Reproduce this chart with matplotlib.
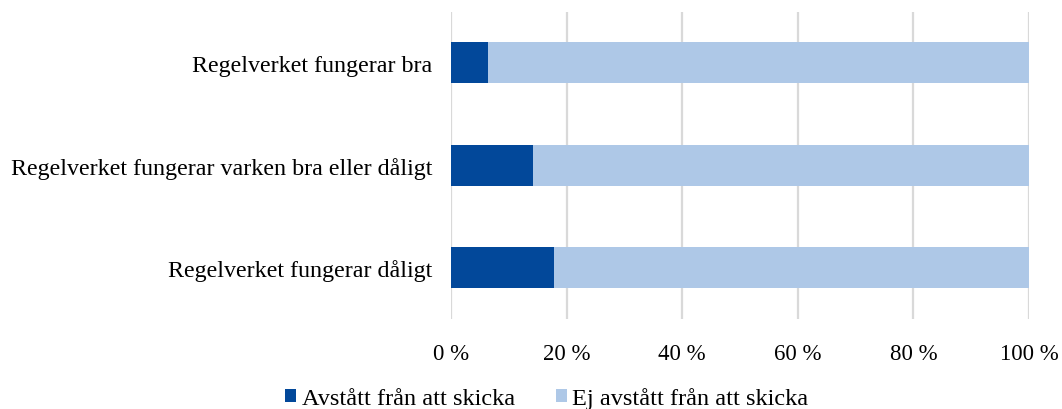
import matplotlib
matplotlib.use("Agg")
import matplotlib.pyplot as plt
from matplotlib.ticker import FuncFormatter

categories = ["Regelverket fungerar bra",
              "Regelverket fungerar varken bra eller dåligt",
              "Regelverket fungerar dåligt"]
avstatt = [6.4, 14.2, 17.8]
ej_avstatt = [100 - v for v in avstatt]
series_names = ["Avstått från att skicka", "Ej avstått från att skicka"]
colors = ["#02489a", "#aec8e7"]
xticks = [0, 20, 40, 60, 80, 100]

plt.rcParams['font.family'] = ['Liberation Serif', 'DejaVu Serif']
fig = plt.figure(figsize=(10.62, 4.10), dpi=100)
ax = fig.add_axes([0.4247, 0.2195, 0.5443, 0.75])

y = list(range(len(categories)))
ax.barh(y, avstatt, height=0.4, color=colors[0], label=series_names[0], zorder=3)
ax.barh(y, ej_avstatt, left=avstatt, height=0.4, color=colors[1], label=series_names[1], zorder=3)

ax.set_ylim(2.5, -0.5)
ax.set_xlim(0, 100)
ax.set_yticks(y)
ax.set_yticklabels(categories, fontsize=17.3, color="#000000")
ax.set_xticks(xticks)
ax.xaxis.set_major_formatter(FuncFormatter(lambda v, p: f"{int(v)} %"))
ax.tick_params(axis='x', labelsize=16.5, length=0, pad=17)
ax.tick_params(axis='y', length=0, pad=13.5)
for s in ax.spines.values():
    s.set_visible(False)
ax.grid(axis='x', color="#d9d9d9", linewidth=1.6, zorder=0)
ax.set_axisbelow(True)

fig.legend(loc='center', bbox_to_anchor=(0.515, 0.026), ncol=2, frameon=False,
           fontsize=17.5, handlelength=0.45, handleheight=0.45, handletextpad=0.22,
           columnspacing=1.7, borderpad=0)
fig.savefig("out.png", dpi=100)
